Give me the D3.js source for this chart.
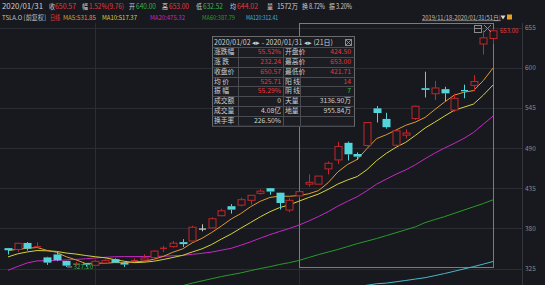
<!DOCTYPE html>
<html>
<head>
<meta charset="utf-8">
<script src="https://cdn.jsdelivr.net/npm/d3@7"></script>
<style>
body{margin:0;background:#fff}
svg{display:block}
text{font-family:"Noto Sans CJK SC","Noto Sans",sans-serif}
</style>
</head>
<body>
<svg id="chart" width="551" height="292"></svg>
<script>
width = 551;
height = 292;

// trading days 2019/11/18 - 2020/01/31
dates = ['2019-11-18','2019-11-19','2019-11-20','2019-11-21','2019-11-22','2019-11-25','2019-11-26','2019-11-27','2019-11-29',
	'2019-12-02','2019-12-03','2019-12-04','2019-12-05','2019-12-06','2019-12-09','2019-12-10','2019-12-11','2019-12-12','2019-12-13',
	'2019-12-16','2019-12-17','2019-12-18','2019-12-19','2019-12-20','2019-12-23','2019-12-24','2019-12-26','2019-12-27','2019-12-30','2019-12-31',
	'2020-01-02','2020-01-03','2020-01-06','2020-01-07','2020-01-08','2020-01-09','2020-01-10','2020-01-13','2020-01-14','2020-01-15',
	'2020-01-16','2020-01-17','2020-01-21','2020-01-22','2020-01-23','2020-01-24','2020-01-27','2020-01-28','2020-01-29','2020-01-30','2020-01-31'];
opens = [352.9,351.0,360.0,354.5,340.2,344.3,335.3,331.1,331.1,329.4,332.6,337.8,332.8,335.0,336.6,339.9,351.4,354.9,361.1,
	362.6,378.99,380.6,397.3,410.3,411.8,418.4,427.9,435.0,428.8,405.0,424.5,440.5,440.5,461.4,473.7,497.1,481.8,493.5,544.3,529.8,
	493.8,507.6,530.3,571.9,564.3,570.6,542.0,568.5,575.7,632.4,640.0];
highs = [353.1,360.0,361.2,360.8,341.0,348.8,335.5,333.9,331.3,336.4,337.9,338.9,334.4,338.9,344.5,350.0,356.1,362.7,365.2,
	383.6,385.5,395.2,406.9,413.0,422.0,425.5,433.5,435.3,429.0,421.3,430.7,454.0,451.6,471.6,498.5,498.8,484.0,525.6,547.4,538.2,
	514.5,515.7,548.0,594.5,582.0,573.9,564.4,576.8,589.8,650.9,653.0];
lows = [344.2,347.8,349.6,354.1,330.0,335.0,327.1,328.6,327.5,328.7,332.2,332.8,327.3,334.8,335.2,338.2,347.7,353.6,354.6,
	362.5,375.9,380.6,396.5,400.2,410.0,412.7,426.3,426.1,405.8,402.1,421.71,436.9,440.1,453.6,468.2,472.9,473.7,492.0,524.9,516.5,
	492.2,503.2,528.4,559.1,555.6,554.3,539.3,558.1,567.4,618.0,632.52];
closes = [349.99,359.52,352.22,354.83,333.04,336.34,328.92,331.29,329.94,334.87,336.2,333.03,330.37,335.89,339.53,348.84,352.7,359.68,358.39,
	381.5,378.99,393.15,404.04,405.59,419.22,425.25,430.94,430.38,414.7,418.33,430.26,443.01,451.54,469.06,492.14,481.34,478.15,524.86,537.92,518.5,
	513.49,510.5,547.2,569.56,572.2,564.82,558.02,566.9,580.99,640.81,650.57];

ma5 = [349.5,351.4,352.7,353.7,349.9,347.2,341.1,336.9,331.9,332.3,332.2,333.1,332.9,334.1,335.0,337.5,341.5,347.3,351.8,360.2,366.3,
	374.3,383.2,392.7,400.2,409.5,417.0,422.3,424.1,423.9,424.9,427.3,431.6,442.4,457.2,467.4,474.4,489.1,502.9,508.2,514.6,521.1,
	525.5,531.9,542.6,552.9,562.4,566.3,568.6,582.3,599.5];
ma10 = [340.9,345.1,347.7,349.6,349.2,348.4,346.2,344.8,342.8,341.1,339.7,337.1,334.9,333.0,333.6,334.9,337.3,340.1,343.0,347.6,351.9,
	357.9,365.3,372.2,380.2,387.9,395.7,402.7,408.4,412.1,417.2,422.2,426.9,433.3,440.6,446.2,450.9,460.3,472.7,482.7,491.0,497.8,
	507.3,517.4,525.4,533.7,541.7,545.9,550.2,562.4,576.2];
ma20 = [322.6,327.8,332.7,335.4,335.7,336.1,336.7,337.5,338.3,339.4,340.3,341.1,341.3,341.3,341.4,341.6,341.8,342.4,342.9,344.4,345.8,
	347.5,350.1,352.6,356.9,361.4,366.5,371.4,375.7,379.8,384.5,390.0,396.1,402.8,410.4,417.0,423.3,431.5,440.5,447.4,454.1,460.0,
	467.1,475.3,483.0,489.9,496.3,503.1,511.4,522.6,533.6];
ma60 = [262,264,266,268,270,272,274,276,278,280,282,284,286,288,290,292.5,295,298,301.5,305,308,
	311,314,316.5,319,322,325,327.5,330.5,333,336,340,344,347.5,351,355,359,362.5,366,370,374,378,
	382,387.8,392,396,400.5,405,409.5,414,419];
ma120 = [247,248,249.2,250.4,251.5,252.6,253.7,254.8,256,257.2,258.4,259.6,260.8,262,263.3,264.6,266,267.4,268.8,270.3,271.8,
	273.3,274.9,276.5,278.1,279.8,281.5,283.2,285,286.8,288.6,290.4,292.3,294.2,296.1,298.1,300.1,302.1,304.1,305,306.8,308.6,
	310.5,312.4,315.2,318.1,321.2,324.4,327.6,331,334.6];

priceTicks = [325, 380, 435, 490, 545, 600, 655];
monthStarts = ['2019-12-02', '2020-01-02'];
rangeStart = '2020-01-02';
rangeEnd = '2020-01-31';

bg = '#17191e';
upColor = '#c4262b';
downColor = '#52d6dc';
flatColor = '#c8c8c8';
redText = '#e8383d';
greenText = '#35b84a';
grayText = '#cfcfcf';

const svg = d3.select('#chart');

svg.append('rect').attr('width', 545).attr('height', 285).attr('fill', bg);

const x = d3.scalePoint().domain(dates).range([8, 493]);
const y = d3.scaleLinear().domain([325, 655]).range([268.5, 27.5]);

svg.append('defs').append('clipPath').attr('id', 'plot')
	.append('rect').attr('x', 0).attr('y', 23).attr('width', 522).attr('height', 262);

// grid
const grid = svg.append('g');
grid.selectAll('.hg').data(priceTicks).join('line')
	.attr('x1', 0).attr('x2', 522)
	.attr('y1', d => Math.round(y(d)) + 0.5).attr('y2', d => Math.round(y(d)) + 0.5)
	.attr('stroke', '#2a2d33');
grid.selectAll('.vg').data(monthStarts).join('line')
	.attr('x1', d => Math.round(x(d)) + 0.5).attr('x2', d => Math.round(x(d)) + 0.5)
	.attr('y1', 23).attr('y2', 285)
	.attr('stroke', '#2a2d33');
grid.append('line').attr('x1', 522.5).attr('x2', 522.5).attr('y1', 23).attr('y2', 285).attr('stroke', '#34373d');

// right axis labels
svg.append('g').selectAll('text').data(priceTicks).join('text')
	.attr('x', 525).attr('y', d => y(d) + 2.5)
	.attr('font-size', 6.5).attr('fill', '#8c8c8c')
	.text(d => d);

// selection box
const bx0 = Math.round(x(rangeStart)) + 0.5, bx1 = Math.round(x(rangeEnd)) + 0.5;
svg.append('rect').attr('x', bx0).attr('y', 23.5).attr('width', bx1 - bx0).attr('height', 244)
	.attr('fill', 'none').attr('stroke', '#7c7c7c');

const plot = svg.append('g').attr('clip-path', 'url(#plot)');

// moving averages
const maSeries = [[ma120, '#4cb6cc'], [ma60, '#2a9a2a'], [ma20, '#c428c4'], [ma10, '#d6d23a'], [ma5, '#e09a34']];
const line = d3.line().x((v, i) => x(dates[i])).y(v => y(v));
maSeries.forEach(s => {
	plot.append('path').attr('d', line(s[0])).attr('fill', 'none')
		.attr('stroke', s[1]).attr('stroke-width', 1);
});

// candles
const bars = dates.map((d, i) => ({d: d, o: opens[i], h: highs[i], l: lows[i], c: closes[i]}));
function colorOf(b) { return b.c > b.o ? upColor : (b.c < b.o ? downColor : flatColor); }
const cg = plot.selectAll('.candle').data(bars).join('g');
cg.each(function(b) {
	const g = d3.select(this);
	const cx = Math.round(x(b.d)) + 0.5;
	const top = y(Math.max(b.o, b.c)), bot = y(Math.min(b.o, b.c));
	const col = colorOf(b);
	g.append('line').attr('x1', cx).attr('x2', cx).attr('y1', y(b.h)).attr('y2', top).attr('stroke', col);
	g.append('line').attr('x1', cx).attr('x2', cx).attr('y1', bot).attr('y2', y(b.l)).attr('stroke', col);
	if (bot - top < 1.2) {
		g.append('line').attr('x1', cx - 3.5).attr('x2', cx + 3.5).attr('y1', top).attr('y2', top)
			.attr('stroke', col).attr('stroke-width', 1.3);
	} else if (b.c > b.o) {
		g.append('rect').attr('x', cx - 3.5).attr('y', top).attr('width', 7).attr('height', bot - top)
			.attr('fill', bg).attr('stroke', col);
	} else {
		g.append('rect').attr('x', cx - 4).attr('y', top).attr('width', 8).attr('height', bot - top)
			.attr('fill', col);
	}
});

// high / low markers
const iLow = d3.minIndex(lows), iHigh = d3.maxIndex(highs);
svg.append('line').attr('x1', x(dates[iLow]) + 1).attr('x2', x(dates[iLow]) + 6)
	.attr('y1', y(lows[iLow])).attr('y2', y(lows[iLow])).attr('stroke', '#9a9a9a');
svg.append('text').attr('x', x(dates[iLow]) + 7).attr('y', y(lows[iLow]) + 2.5)
	.attr('font-size', 6.5).attr('fill', greenText).text(lows[iLow].toFixed(2));
svg.append('text').attr('x', x(dates[iHigh]) + 7).attr('y', y(highs[iHigh]) + 4.5)
	.attr('font-size', 6).attr('fill', redText).text(highs[iHigh].toFixed(2));

// box icons
svg.append('rect').attr('x', 474.5).attr('y', 25.5).attr('width', 7).attr('height', 7)
	.attr('fill', 'none').attr('stroke', '#8a8a8a');
svg.append('line').attr('x1', 475).attr('x2', 481).attr('y1', 28.5).attr('y2', 28.5).attr('stroke', '#8a8a8a');
svg.append('path').attr('d', 'M484,25L491,32M491,25L484,32').attr('stroke', '#8a8a8a');

// header rows: [text, x, colour, width]
header1 = [
	['2020/01/31', 2, grayText, 41], ['收', 49, grayText, 6], ['650.57', 55, redText, 21], ['幅', 82, grayText, 6],
	['1.52%(9.76)', 89, redText, 35], ['开', 129, grayText, 6], ['640.00', 136, greenText, 20], ['高', 162, grayText, 6],
	['653.00', 169, redText, 20], ['低', 196, grayText, 6], ['632.52', 203, greenText, 20], ['均', 230, grayText, 6],
	['644.02', 237, redText, 21], ['量', 267, grayText, 6], ['1572万', 277, grayText, 21], ['换', 302, grayText, 6],
	['8.72%', 309, grayText, 16], ['振', 329, grayText, 6], ['3.20%', 336, grayText, 16]
];
svg.append('g').selectAll('text').data(header1).join('text')
	.attr('x', d => d[1]).attr('y', 8.5).attr('font-size', 7.2).attr('fill', d => d[2])
	.attr('textLength', d => d[3]).attr('lengthAdjust', 'spacingAndGlyphs').text(d => d[0]);

header2 = [
	['TSLA.O [前复权]', 2, '#c0c0c0', 44], ['日线', 50, redText, 10],
	['MA5:531.85', 63, '#e09a34', 33], ['MA10:517.37', 102, '#d6d23a', 35], ['MA20:475.32', 150, '#c428c4', 35],
	['MA60:387.79', 202, '#2a9a2a', 33], ['MA120:312.41', 246, '#4cb6cc', 32]
];
svg.append('g').selectAll('text').data(header2).join('text')
	.attr('x', d => d[1]).attr('y', 20).attr('font-size', 6.6).attr('fill', d => d[2])
	.attr('textLength', d => d[3]).attr('lengthAdjust', 'spacingAndGlyphs').text(d => d[0]);

svg.append('text').attr('x', 422).attr('y', 19.5).attr('font-size', 5.8).attr('fill', '#bdbdbd')
	.attr('text-decoration', 'underline').text('2019/11/18-2020/01/31(51日)');
svg.append('path').attr('d', 'M500.5,15.5L505.5,15.5L503,19.5Z').attr('fill', '#d8d8d8');
svg.append('rect').attr('x', 507).attr('y', 14.5).attr('width', 5).attr('height', 5).attr('fill', '#e8a020');

// interval statistics table
leftLabels = ['涨跌幅', '涨 跌', '收盘价', '均 价', '振 幅', '成交额', '成交量', '换手率'];
leftValues = ['55.52%', '232.24', '650.57', '525.71', '55.29%', '0', '4.08亿', '226.50%'];
leftColors = [redText, redText, redText, redText, redText, grayText, grayText, grayText];
rightLabels = ['开盘价', '最高价', '最低价', '阳 线', '阴 线', '天量', '地量', ''];
rightValues = ['424.50', '653.00', '421.71', '14', '7', '3136.90万', '955.84万', ''];
rightColors = [redText, redText, redText, redText, greenText, grayText, grayText, grayText];

const tx0 = 212, tx1 = 354, ty0 = 36, hdrH = 11, rowH = 9.85;
const tbl = svg.append('g');
tbl.append('rect').attr('x', tx0 + 0.5).attr('y', ty0 + 0.5).attr('width', tx1 - tx0).attr('height', hdrH + rowH * 8)
	.attr('fill', '#1b1d22').attr('stroke', '#6a6a6a');
tbl.selectAll('.rl').data(d3.range(9)).join('line')
	.attr('x1', tx0 + 0.5).attr('x2', tx1 + 0.5)
	.attr('y1', i => Math.round(ty0 + hdrH + i * rowH) + 0.5).attr('y2', i => Math.round(ty0 + hdrH + i * rowH) + 0.5)
	.attr('stroke', '#4a4c52');
[238, 283, 300].forEach(cx => {
	tbl.append('line').attr('x1', cx + 0.5).attr('x2', cx + 0.5).attr('y1', ty0 + hdrH).attr('y2', ty0 + hdrH + rowH * 8)
		.attr('stroke', '#4a4c52');
});
tbl.append('text').attr('x', 214).attr('y', ty0 + 8.5).attr('font-size', 7).attr('fill', grayText)
	.text('2020/01/02 ◂▸ - 2020/01/31 ◂▸ (21日)');
tbl.append('rect').attr('x', 345.5).attr('y', 39.5).attr('width', 6).attr('height', 6).attr('fill', 'none').attr('stroke', '#8a8a8a');
tbl.append('path').attr('d', 'M346,40L351,45M351,40L346,45').attr('stroke', '#8a8a8a');

const rowY = i => ty0 + hdrH + i * rowH + 7;
tbl.selectAll('.ll').data(leftLabels).join('text')
	.attr('x', 214).attr('y', (d, i) => rowY(i)).attr('font-size', 6.8).attr('fill', grayText).text(d => d);
tbl.selectAll('.lv').data(leftValues).join('text')
	.attr('x', 281).attr('y', (d, i) => rowY(i)).attr('text-anchor', 'end').attr('font-size', 6.8)
	.attr('fill', (d, i) => leftColors[i]).text(d => d);
tbl.selectAll('.rlb').data(rightLabels).join('text')
	.attr('x', 285).attr('y', (d, i) => rowY(i)).attr('font-size', 6.8).attr('fill', grayText).text(d => d);
tbl.selectAll('.rv').data(rightValues).join('text')
	.attr('x', 351).attr('y', (d, i) => rowY(i)).attr('text-anchor', 'end').attr('font-size', 6.8)
	.attr('fill', (d, i) => rightColors[i]).text(d => d);
</script>
</body>
</html>
